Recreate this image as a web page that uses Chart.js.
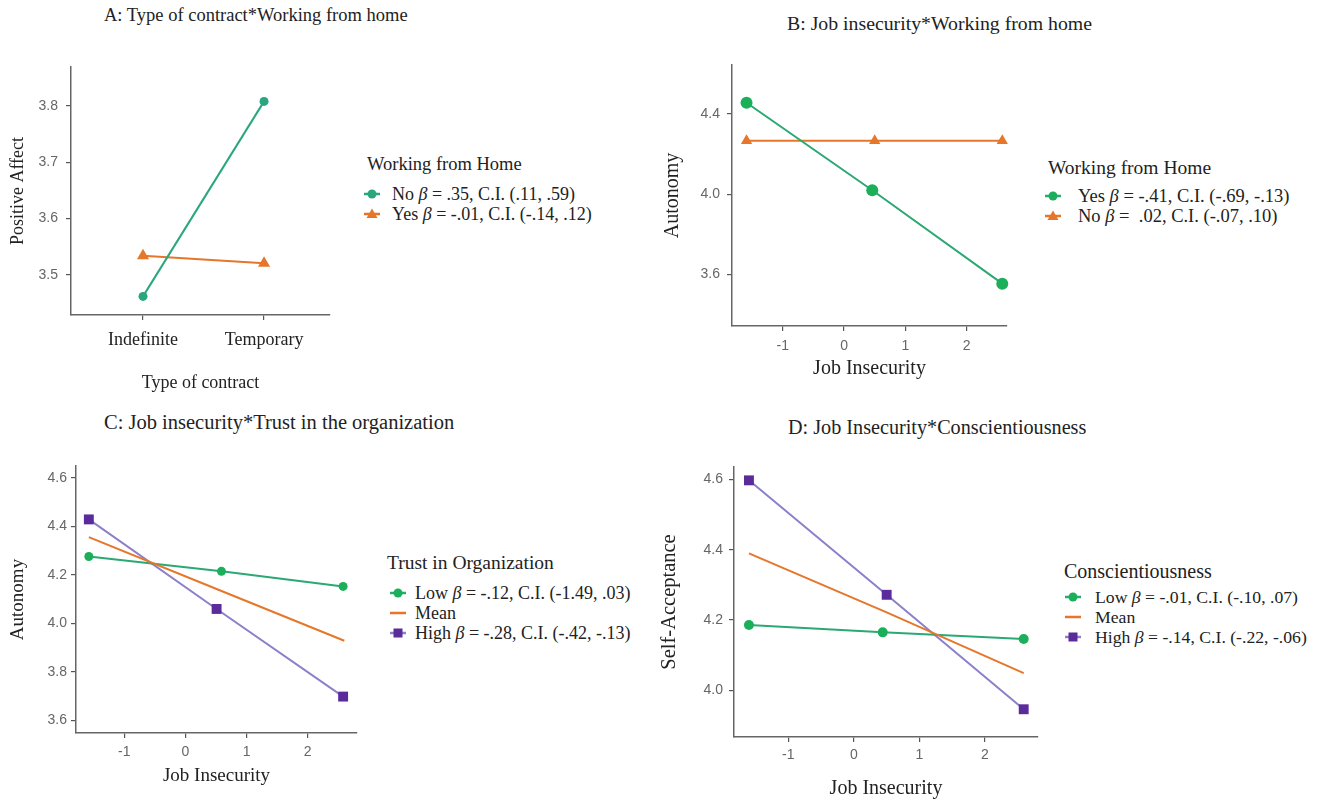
<!DOCTYPE html>
<html>
<head>
<meta charset="utf-8">
<script src="https://cdn.jsdelivr.net/npm/chart.js@4.4.0/dist/chart.umd.min.js"></script>
<style>
  html, body { margin: 0; padding: 0; background: #fff; }
  body { width: 1320px; height: 801px; position: relative; overflow: hidden; font-family: 'Liberation Serif', 'Times New Roman', serif; color: #222; }
  canvas { position: absolute; }
  .title { position: absolute; line-height: 20px; white-space: nowrap; }
  .legend { position: absolute; line-height: 20px; white-space: nowrap; }
  .legend .row { display: flex; align-items: center; height: 20px; }
  .legend svg { flex: none; }
</style>
</head>
<body>
<div class="title" style="left:104px; top:5px; font-size:18.5px;">A: Type of contract*Working from home</div>
<div class="title" style="left:787px; top:13px; font-size:19.8px;">B: Job insecurity*Working from home</div>
<div class="title" style="left:104px; top:412px; font-size:20.5px;">C: Job insecurity*Trust in the organization</div>
<div class="title" style="left:788px; top:417px; font-size:20.2px;">D: Job Insecurity*Conscientiousness</div>

<canvas id="chartA"></canvas>
<canvas id="chartB"></canvas>
<canvas id="chartC"></canvas>
<canvas id="chartD"></canvas>

<div class="legend" id="legendA" style="left:367px; top:154px;"></div>
<div class="legend" id="legendB" style="left:1048px; top:158px;"></div>
<div class="legend" id="legendC" style="left:387px; top:553px;"></div>
<div class="legend" id="legendD" style="left:1064px; top:561px;"></div>

<script>
// Panel A: Type of contract * Working from home
const aCategories = ['Indefinite', 'Temporary'];
const aNo = [3.462, 3.808];
const aYes = [3.534, 3.521];
const aYTicks = [3.5, 3.6, 3.7, 3.8];

// Panel B: Job insecurity * Working from home
const bXYes = [-1.59, 0.46, 2.58];
const bYes = [4.456, 4.020, 3.555];
const bXNo = [-1.59, 0.50, 2.58];
const bNo = [4.267, 4.267, 4.267];
const bYTicks = [3.6, 4.0, 4.4];

// Panel C: Job insecurity * Trust in the organization
const cXLow = [-1.58, 0.59, 2.58];
const cLow = [4.275, 4.214, 4.152];
const cXMean = [-1.58, 0.55, 2.60];
const cMean = [4.355, 4.137, 3.928];
const cXHigh = [-1.58, 0.51, 2.58];
const cHigh = [4.428, 4.059, 3.698];
const cYTicks = [3.6, 3.8, 4.0, 4.2, 4.4, 4.6];

// Panel D: Job insecurity * Conscientiousness
const dXLow = [-1.60, 0.44, 2.59];
const dLow = [4.186, 4.165, 4.146];
const dXMean = [-1.60, 0.50, 2.59];
const dMean = [4.390, 4.222, 4.049];
const dXHigh = [-1.60, 0.50, 2.59];
const dHigh = [4.598, 4.272, 3.946];
const dYTicks = [4.0, 4.2, 4.4, 4.6];

const jobTicks = [-1, 0, 1, 2];

const legendA = ['No <i>β</i> = .35, C.I. (.11, .59)', 'Yes <i>β</i> = -.01, C.I. (-.14, .12)'];
const legendB = ['Yes <i>β</i> = -.41, C.I. (-.69, -.13)', 'No <i>β</i> =&nbsp; .02, C.I. (-.07, .10)'];
const legendC = ['Low <i>β</i> = -.12, C.I. (-1.49, .03)', 'Mean', 'High <i>β</i> = -.28, C.I. (-.42, -.13)'];
const legendD = ['Low <i>β</i> = -.01, C.I. (-.10, .07)', 'Mean', 'High <i>β</i> = -.14, C.I. (-.22, -.06)'];

const tealGreen = '#2aa67f';
const greenLine = '#2ba873';
const greenDot = '#1caf5a';
const orange = '#e5762a';
const purpleLine = '#8b80c9';
const purpleDot = '#5b2b9c';

const serif = "'Liberation Serif', 'Times New Roman', serif";
const sans = "'Liberation Sans', Arial, sans-serif";

function pts(xs, ys) {
    return xs.map((x, i) => ({ x: x, y: ys[i] }));
}

function series(data, line, dot, style, radius) {
    return {
        data: data,
        borderColor: line,
        backgroundColor: dot,
        pointBackgroundColor: dot,
        pointBorderColor: dot,
        pointBorderWidth: 0,
        borderWidth: 2,
        pointStyle: style || 'circle',
        pointRadius: style === false ? 0 : radius,
        tension: 0,
        clip: false
    };
}

function makePanel(p) {
    const cv = document.getElementById(p.id);
    cv.style.left = p.left + 'px';
    cv.style.top = p.top + 'px';
    cv.width = p.width;
    cv.height = p.height;
    cv.style.width = p.width + 'px';
    cv.style.height = p.height + 'px';

    const axisCommon = {
        border: { display: true, color: '#666', width: 1.5 },
        grid: { display: true, drawOnChartArea: false, drawTicks: true, tickLength: 5, color: '#555', lineWidth: 1.2 }
    };

    return new Chart(cv, {
        type: 'line',
        data: { datasets: p.datasets },
        options: {
            responsive: false,
            animation: false,
            events: [],
            layout: { padding: { top: p.padTop, right: p.padRight, left: 0, bottom: 0 } },
            plugins: { legend: { display: false }, tooltip: { enabled: false } },
            scales: {
                x: Object.assign({}, axisCommon, {
                    type: 'linear',
                    min: p.xMin,
                    max: p.xMax,
                    afterFit: s => { s.height = p.xHeight; },
                    afterBuildTicks: s => { s.ticks = p.xTicks.map(v => ({ value: v })); },
                    ticks: {
                        padding: p.xTickPad,
                        color: p.xTickColor || '#666',
                        font: p.xTickFont || { family: sans, size: 14 },
                        callback: p.xLabel || (v => String(v))
                    },
                    title: {
                        display: true,
                        text: p.xTitle,
                        color: '#222',
                        font: { family: serif, size: p.titleSize },
                        padding: { top: 0, bottom: p.xTitlePad }
                    }
                }),
                y: Object.assign({}, axisCommon, {
                    type: 'linear',
                    min: p.yMin,
                    max: p.yMax,
                    afterFit: s => { s.width = p.yWidth; },
                    afterBuildTicks: s => { s.ticks = p.yTicks.map(v => ({ value: v })); },
                    ticks: {
                        padding: p.yTickPad || 4,
                        color: '#666',
                        font: { family: sans, size: 14 },
                        callback: v => v.toFixed(1)
                    },
                    title: {
                        display: true,
                        text: p.yTitle,
                        color: '#222',
                        font: { family: serif, size: p.yTitleSize || p.titleSize },
                        padding: { top: p.yTitlePad, bottom: 0 }
                    }
                })
            }
        }
    });
}

// small key: a short line with the point symbol on top, like the ggplot legend
function marker(kind, line, dot) {
    let shape = '';
    if (kind === 'circle') shape = `<circle cx="10" cy="10" r="4.5" fill="${dot}"/>`;
    if (kind === 'triangle') shape = `<polygon points="10,4.5 15.5,14 4.5,14" fill="${dot}"/>`;
    if (kind === 'rect') shape = `<rect x="5.5" y="5.5" width="9" height="9" fill="${dot}"/>`;
    return `<svg width="20" height="20"><line x1="2" y1="10" x2="18" y2="10" stroke="${line}" stroke-width="2.5"/>${shape}</svg>`;
}

// sizes: [title px, entry px, gap under title, key centre offset, text offset]
function buildLegend(id, title, labels, keys, sizes) {
    const keyLeft = sizes[3] - 10;
    const textGap = sizes[4] - (sizes[3] + 10);
    let html = `<div style="font-size:${sizes[0]}px; margin-bottom:${sizes[2]}px;">${title}</div>`;
    labels.forEach((lab, i) => {
        const k = keys[i];
        html += `<div class="row" style="font-size:${sizes[1]}px;"><span style="margin-left:${keyLeft}px; margin-right:${textGap}px; display:flex;">${marker(k[0], k[1], k[2])}</span><span>${lab}</span></div>`;
    });
    document.getElementById(id).innerHTML = html;
}

// A
makePanel({
    id: 'chartA', left: 0, top: 40, width: 345, height: 360,
    padTop: 27, padRight: 15, yWidth: 71, xHeight: 85,
    xMin: 0.405, xMax: 2.545, yMin: 3.429, yMax: 3.869,
    xTicks: [1, 2], yTicks: aYTicks, yTickPad: 8,
    xLabel: v => aCategories[v - 1],
    xTickFont: { family: serif, size: 18 }, xTickColor: '#222', xTickPad: 9,
    titleSize: 18,
    xTitle: 'Type of contract', xTitlePad: 6,
    yTitle: 'Positive Affect', yTitlePad: 7,
    datasets: [
        series(pts([1, 2], aNo), tealGreen, tealGreen, 'circle', 4.5),
        series(pts([1, 2], aYes), orange, orange, 'triangle', 7)
    ]
});

// B
makePanel({
    id: 'chartB', left: 640, top: 40, width: 380, height: 350,
    padTop: 25, padRight: 13, yWidth: 92, xHeight: 64,
    xMin: -1.827, xMax: 2.657, yMin: 3.344, yMax: 4.644,
    xTicks: jobTicks, yTicks: bYTicks, xTickPad: 7, yTickPad: 7,
    titleSize: 20,
    xTitle: 'Job Insecurity', xTitlePad: 9,
    yTitle: 'Autonomy', yTitlePad: 21,
    datasets: [
        series(pts(bXYes, bYes), greenLine, greenDot, 'circle', 6),
        series(pts(bXNo, bNo), orange, orange, 'triangle', 6.5)
    ]
});

// C
makePanel({
    id: 'chartC', left: 0, top: 440, width: 370, height: 355,
    padTop: 26, padRight: 13, yWidth: 76, xHeight: 62,
    xMin: -1.79, xMax: 2.807, yMin: 3.548, yMax: 4.648,
    xTicks: jobTicks, yTicks: cYTicks, xTickPad: 6,
    titleSize: 19,
    xTitle: 'Job Insecurity', xTitlePad: 8,
    yTitle: 'Autonomy', yTitlePad: 7,
    datasets: [
        series(pts(cXMean, cMean), orange, orange, false, 0),
        series(pts(cXLow, cLow), greenLine, greenDot, 'circle', 4.5),
        series(pts(cXHigh, cHigh), purpleLine, purpleDot, 'rect', 7)
    ]
});

// D
makePanel({
    id: 'chartD', left: 640, top: 440, width: 410, height: 361,
    padTop: 27, padRight: 12, yWidth: 94, xHeight: 64,
    xMin: -1.828, xMax: 2.808, yMin: 3.867, yMax: 4.636,
    xTicks: jobTicks, yTicks: dYTicks, xTickPad: 5, yTickPad: 6,
    titleSize: 20, yTitleSize: 20.5,
    xTitle: 'Job Insecurity', xTitlePad: 0,
    yTitle: 'Self-Acceptance', yTitlePad: 17,
    datasets: [
        series(pts(dXMean, dMean), orange, orange, false, 0),
        series(pts(dXLow, dLow), greenLine, greenDot, 'circle', 5),
        series(pts(dXHigh, dHigh), purpleLine, purpleDot, 'rect', 7)
    ]
});

buildLegend('legendA', 'Working from Home', legendA,
    [['circle', tealGreen, tealGreen], ['triangle', orange, orange]], [18.5, 18, 10, 5, 25]);
buildLegend('legendB', 'Working from Home', legendB,
    [['circle', greenLine, greenDot], ['triangle', orange, orange]], [19.5, 18.5, 8, 5, 30]);
buildLegend('legendC', 'Trust in Organization', legendC,
    [['circle', greenLine, greenDot], ['none', orange, orange], ['rect', purpleLine, purpleDot]], [19.5, 18, 10, 11, 28]);
buildLegend('legendD', 'Conscientiousness', legendD,
    [['circle', greenLine, greenDot], ['none', orange, orange], ['rect', purpleLine, purpleDot]], [20, 17.7, 6, 9, 31]);
</script>
</body>
</html>
